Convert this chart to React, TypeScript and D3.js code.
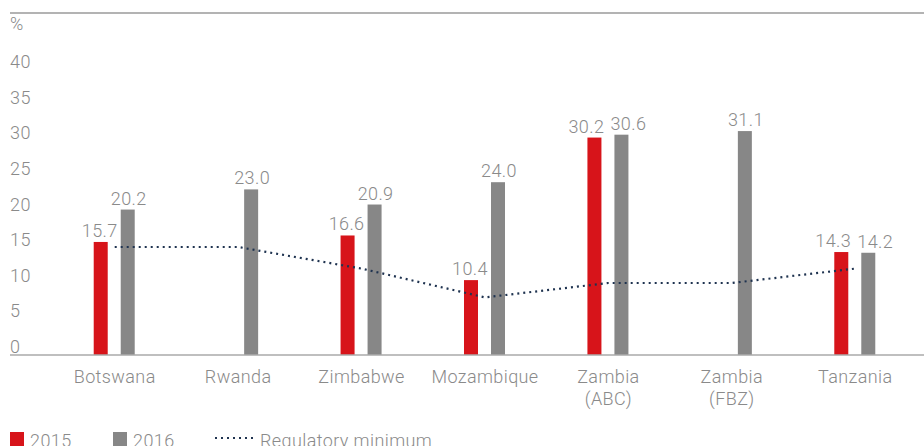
import { scaleBand, scaleLinear, line } from 'd3';

// categories along the x axis (second line of a label after "\n")
const countries = [
  'Botswana',
  'Rwanda',
  'Zimbabwe',
  'Mozambique',
  'Zambia\n(ABC)',
  'Zambia\n(FBZ)',
  'Tanzania',
];

// capital adequacy ratio, %
const values2015 = [15.7, null, 16.6, 10.4, 30.2, null, 14.3];
const values2016 = [20.2, 23.0, 20.9, 24.0, 30.6, 31.1, 14.2];
const regulatoryMinimum = [15, 15, 12, 8, 10, 10, 12];

const yTicks = [0, 5, 10, 15, 20, 25, 30, 35, 40];

const RED = '#d7141a';
const GREY = '#878787';
const NAVY = '#1f3350';
const TEXT = '#8a8a8a';
const FONT = 'Roboto, "Liberation Sans", sans-serif';

const App = () => {
  const width = 924;
  const height = 446;

  const x = scaleBand().domain(countries).range([53, 917]);
  const y = scaleLinear().domain([0, 40]).range([355, 67]);
  // tick labels sit slightly tighter than the bars
  const yLabel = scaleLinear().domain([0, 40]).range([353, 68]);
  const center = (c) => x(c) + x.bandwidth() / 2;

  const minLine = line()
    .x((d, i) => center(countries[i]))
    .y((d) => y(d));

  const textProps = { fontSize: 18, fill: TEXT, letterSpacing: 0.4 };

  return (
    <svg
      width={width}
      height={height}
      style={{ position: 'absolute', left: 0, top: 0, display: 'block' }}
      fontFamily={FONT}
      fontWeight={300}
    >
      {/* top rule */}
      <line x1={10} x2={924} y1={13} y2={13} stroke="#b3b3b3" strokeWidth={2} />

      {/* y axis labels */}
      <text x={10} y={30} {...textProps}>
        %
      </text>
      {yTicks.map((t) => (
        <text key={t} x={10} y={yLabel(t)} {...textProps}>
          {t}
        </text>
      ))}

      {/* bars */}
      {countries.map((c, i) => {
        const a = values2015[i];
        const b = values2016[i];
        // push value labels apart when the two bars are about the same height
        const close = a != null && Math.abs(a - b) < 3;
        return (
          <g key={c}>
            {a != null && (
              <g>
                <rect
                  x={center(c) - 21}
                  y={y(a)}
                  width={14}
                  height={y(0) - y(a)}
                  fill={RED}
                />
                <text
                  x={center(c) - (close ? 22 : 15)}
                  y={y(a) - 5}
                  textAnchor="middle"
                  {...textProps}
                >
                  {a.toFixed(1)}
                </text>
              </g>
            )}
            <rect
              x={center(c) + 6}
              y={y(b)}
              width={14}
              height={y(0) - y(b)}
              fill={GREY}
            />
            <text
              x={center(c) + (close ? 20 : 14)}
              y={y(b) - 5}
              textAnchor="middle"
              {...textProps}
            >
              {b.toFixed(1)}
            </text>
          </g>
        );
      })}

      {/* regulatory minimum */}
      <path
        d={minLine(regulatoryMinimum)}
        fill="none"
        stroke={NAVY}
        strokeWidth={2.2}
        strokeDasharray="2 4"
      />

      {/* baseline */}
      <line x1={10} x2={924} y1={y(0)} y2={y(0)} stroke="#aaaaaa" strokeWidth={1.5} />

      {/* category labels */}
      {countries.map((c) => (
        <text key={c} x={center(c)} y={383} textAnchor="middle" {...textProps}>
          {c.split('\n').map((part, j) => (
            <tspan key={j} x={center(c)} dy={j === 0 ? 0 : 22}>
              {part}
            </tspan>
          ))}
        </text>
      ))}

      {/* legend */}
      <rect x={10} y={432} width={14} height={14} fill={RED} />
      <text x={30} y={447} {...textProps}>
        2015
      </text>
      <rect x={113} y={432} width={14} height={14} fill={GREY} />
      <text x={133} y={447} {...textProps}>
        2016
      </text>
      <line
        x1={215}
        x2={254}
        y1={438}
        y2={438}
        stroke={NAVY}
        strokeWidth={2.2}
        strokeDasharray="2 4"
      />
      <text x={260} y={447} {...textProps}>
        Regulatory minimum
      </text>
    </svg>
  );
};

export default App;
